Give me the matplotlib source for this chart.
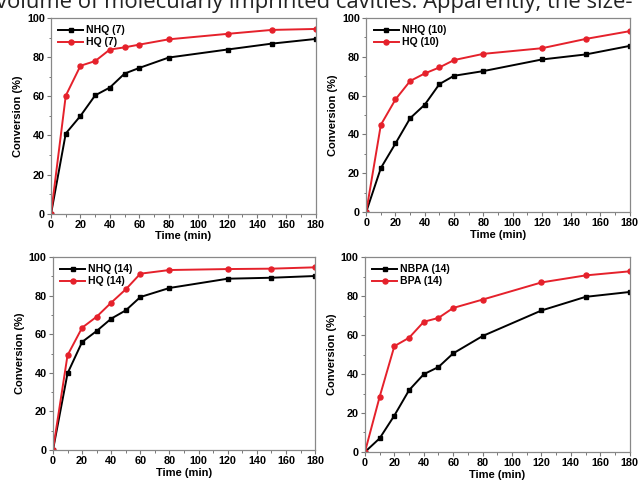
import numpy as np
import matplotlib.pyplot as plt
from matplotlib.ticker import MultipleLocator

plt.rcParams["font.family"] = ["Liberation Sans", "DejaVu Sans"]

time = [0, 10, 20, 30, 40, 50, 60, 80, 120, 150, 180]

nhq7 = [0, 41.0, 50.0, 60.5, 64.5, 71.6, 74.5, 79.8, 83.9, 86.9, 89.3]
hq7 = [0, 60.3, 75.6, 78.0, 83.9, 85.0, 86.4, 89.1, 91.9, 93.9, 94.4]

nhq10 = [0, 22.6, 35.3, 48.3, 55.3, 65.9, 70.2, 72.6, 78.6, 81.2, 85.6]
hq10 = [0, 44.9, 58.0, 67.5, 71.4, 74.5, 78.3, 81.5, 84.4, 89.2, 93.2]

nhq14 = [0, 39.7, 56.0, 61.7, 68.1, 72.4, 79.3, 84.0, 88.8, 89.3, 90.2]
hq14 = [0, 49.1, 63.4, 69.1, 76.4, 83.3, 91.4, 93.3, 93.8, 94.0, 94.7]

nbpa14 = [0, 7.0, 18.7, 31.7, 39.9, 43.6, 50.6, 59.5, 72.6, 79.6, 82.1]
bpa14 = [0, 28.3, 54.3, 58.6, 66.8, 68.8, 73.9, 78.2, 87.0, 90.6, 92.7]

panels = [
    ("NHQ (7)", nhq7, "HQ (7)", hq7),
    ("NHQ (10)", nhq10, "HQ (10)", hq10),
    ("NHQ (14)", nhq14, "HQ (14)", hq14),
    ("NBPA (14)", nbpa14, "BPA (14)", bpa14),
]

# axes boxes [left, bottom, width, height] in figure fractions
boxes = [
    [0.080, 0.560, 0.415, 0.403],
    [0.574, 0.564, 0.413, 0.399],
    [0.083, 0.074, 0.411, 0.397],
    [0.572, 0.070, 0.415, 0.401],
]

fig = plt.figure(figsize=(6.38, 4.86), dpi=100)

fig.text(-0.006, 1 - 8 / 486, "volume of molecularly imprinted cavities. Apparently, the size-",
         fontsize=15.8, family=["Open Sans", "DejaVu Sans"], color="#222222", va="baseline")

for box, (l1, y1, l2, y2) in zip(boxes, panels):
    ax = fig.add_axes(box)
    ax.plot(time, y1, color="black", marker="s", markersize=3.2, linewidth=1.4, label=l1)
    ax.plot(time, y2, color="#e5212b", marker="o", markersize=3.6, linewidth=1.4, label=l2)
    ax.set_xlim(0, 180)
    ax.set_ylim(0, 100)
    ax.xaxis.set_major_locator(MultipleLocator(20))
    ax.xaxis.set_minor_locator(MultipleLocator(10))
    ax.yaxis.set_major_locator(MultipleLocator(20))
    ax.yaxis.set_minor_locator(MultipleLocator(10))
    ax.tick_params(which="major", direction="out", length=3, width=0.8, color="#777777",
                   labelsize=7.8, pad=1.5)
    ax.tick_params(which="minor", direction="out", length=1.8, width=0.7, color="#777777")
    for lab in ax.get_xticklabels() + ax.get_yticklabels():
        lab.set_fontweight("bold")
    for sp in ax.spines.values():
        sp.set_color("#888888")
        sp.set_linewidth(0.9)
    ax.set_xlabel("Time (min)", fontsize=8, fontweight="bold", labelpad=1)
    ax.set_ylabel("Conversion (%)", fontsize=8, fontweight="bold", labelpad=3)
    ax.legend(loc="upper left", frameon=False, prop={"size": 7.5, "weight": "bold"},
              handlelength=2.4, handletextpad=0.3, labelspacing=0.2,
              borderaxespad=0.3)

fig.savefig("out.png", dpi=100)
